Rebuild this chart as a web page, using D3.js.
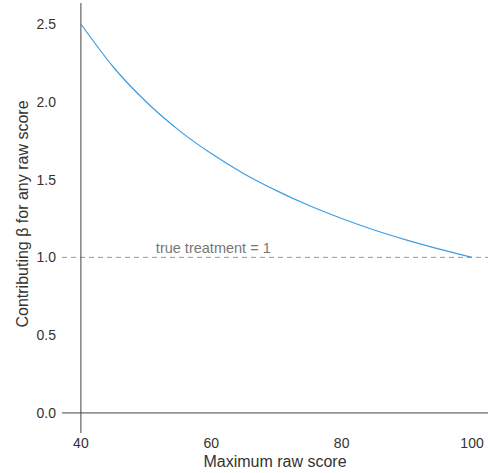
<!DOCTYPE html>
<html>
<head>
<meta charset="utf-8">
<script src="https://cdn.jsdelivr.net/npm/d3@7"></script>
<style>
  body { margin: 0; background: #fff; }
  text { font-family: Arial, "Liberation Sans", sans-serif; }
</style>
</head>
<body>
<div id="chart"></div>
<script>
// values
var maxScore = [40, 45, 50, 55, 60, 65, 70, 75, 80, 85, 90, 95, 100];
var beta = [2.5, 2.222, 2.0, 1.818, 1.667, 1.538, 1.429, 1.333, 1.25, 1.176, 1.111, 1.053, 1.0];
var xTicks = [40, 60, 80, 100];
var yTicks = [0.0, 0.5, 1.0, 1.5, 2.0, 2.5];
var trueTreatment = 1;

var width = 490, height = 473;
var margin = { top: 3, left: 62, right: 2, bottom: 40 };

var svg = d3.select('#chart')
    .append('svg')
    .attr('width', width)
    .attr('height', height);

var x = d3.scaleLinear()
    .domain([37.1, 102.45])
    .range([margin.left, width - margin.right]);

var y = d3.scaleLinear()
    .domain([-0.129, 2.635])
    .range([height - margin.bottom, margin.top]);

// reference line
svg.append('line')
    .attr('x1', x.range()[0]).attr('x2', x.range()[1])
    .attr('y1', y(trueTreatment)).attr('y2', y(trueTreatment))
    .style('stroke', '#999')
    .style('stroke-width', 1)
    .style('stroke-dasharray', '5,4');

svg.append('text')
    .attr('x', x(51.5))
    .attr('y', y(trueTreatment) - 4)
    .style('font-size', '14.5px')
    .style('fill', '#777')
    .text('true treatment = 1');

// crossing axis lines
svg.append('line')
    .attr('x1', x.range()[0]).attr('x2', x.range()[1])
    .attr('y1', y(0)).attr('y2', y(0))
    .style('stroke', '#444').style('stroke-width', 1);

svg.append('line')
    .attr('x1', x(40)).attr('x2', x(40))
    .attr('y1', y.range()[0]).attr('y2', y.range()[1])
    .style('stroke', '#444').style('stroke-width', 1);

var line = d3.line()
    .x(function(d, i) { return x(maxScore[i]); })
    .y(function(d) { return y(d); })
    .curve(d3.curveMonotoneX);

svg.append('path')
    .datum(beta)
    .attr('d', line)
    .style('fill', 'none')
    .style('stroke', '#3d9ee0')
    .style('stroke-width', 1.2);

// tick labels
svg.append('g')
    .selectAll('text')
    .data(xTicks)
    .enter()
    .append('text')
    .attr('x', function(d) { return x(d); })
    .attr('y', 448)
    .attr('text-anchor', 'middle')
    .style('font-size', '14px')
    .style('fill', '#333')
    .text(function(d) { return d; });

svg.append('g')
    .selectAll('text')
    .data(yTicks)
    .enter()
    .append('text')
    .attr('x', 56)
    .attr('y', function(d) { return y(d) + 5; })
    .attr('text-anchor', 'end')
    .style('font-size', '14px')
    .style('fill', '#333')
    .text(function(d) { return d3.format('.1f')(d); });

// axis titles
svg.append('text')
    .attr('x', (x.range()[0] + x.range()[1]) / 2)
    .attr('y', 467)
    .attr('text-anchor', 'middle')
    .style('font-size', '16px')
    .style('fill', '#333')
    .text('Maximum raw score');

svg.append('text')
    .attr('transform', 'translate(28,' + 214 + ') rotate(-90)')
    .attr('text-anchor', 'middle')
    .style('font-size', '16px')
    .style('fill', '#333')
    .text('Contributing β for any raw score');
</script>
</body>
</html>
